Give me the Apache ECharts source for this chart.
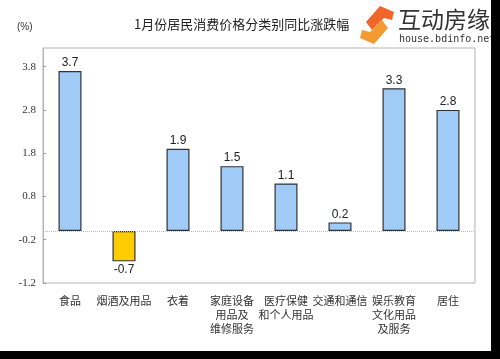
<!DOCTYPE html>
<html><head><meta charset="utf-8">
<script src="https://cdn.jsdelivr.net/npm/echarts@6/dist/echarts.min.js"></script>
<style>
html,body{margin:0;padding:0;background:#000;width:500px;height:359px;overflow:hidden}
#c{width:491px;height:351px;background:#fff}
</style></head><body>
<div id="c"></div>
<script>
var categories = ['食品','烟酒及用品','衣着','家庭设备\n用品及\n维修服务','医疗保健\n和个人用品','交通和通信','娱乐教育\n文化用品\n及服务','居住'];
var values = [3.7, -0.7, 1.9, 1.5, 1.1, 0.2, 3.3, 2.8];
var yTicks = [-1.2, -0.2, 0.8, 1.8, 2.8, 3.8];
var titleText = '1月份居民消费价格分类别同比涨跌幅';

var chart = echarts.init(document.getElementById('c'), null, {renderer:'canvas'});
var option = {
  backgroundColor:'#fff',
  animation:false,
  title:{text:titleText,left:129,top:13,textStyle:{fontSize:13,fontWeight:'normal',color:'#222',fontFamily:'Noto Sans CJK SC'}},
  grid:{left:43,right:16,top:48,bottom:68,show:true,borderColor:'#b4b4b4',borderWidth:1,backgroundColor:'transparent'},
  xAxis:{type:'category',data:categories,
    axisLine:{onZero:false,show:false},axisTick:{show:false},
    axisLabel:{interval:0,margin:11,fontSize:11,lineHeight:14,color:'#333',fontFamily:'Noto Sans CJK SC',verticalAlign:'top'}},
  yAxis:{type:'value',min:-1.2,max:4.23,
    axisLine:{show:true,lineStyle:{color:'#b4b4b4'}},
    axisTick:{show:true,inside:true,length:3,customValues:yTicks,lineStyle:{color:'#999'}},
    axisLabel:{customValues:yTicks,margin:7,fontSize:11,color:'#333',fontFamily:'Liberation Serif',formatter:function(v){return v.toFixed(1);}},
    splitLine:{show:false}},
  series:[{type:'bar',data:values.map(function(v){return {value:v,itemStyle:{color:v<0?'#ffcc00':'#9fcbf6'}};}),
    barWidth:23,
    itemStyle:{borderColor:'#333',borderWidth:1.2},
    label:{show:true,position:'outside',fontSize:12,color:'#222',fontFamily:'Liberation Sans',distance:2,
      formatter:function(p){return p.value.toFixed(1);}},
    markLine:{silent:true,symbol:'none',label:{show:false},lineStyle:{color:'#bbb',type:'dotted',width:1},data:[{yAxis:0}]}
  }],
  graphic:[
    {type:'text',left:17,top:22,style:{text:'(%)',fontSize:10,fill:'#333',fontFamily:'Liberation Sans'}},
    {type:'polygon',shape:{points:[[380,6],[366,22],[372,30],[384,18],[392,20],[394,12]]},style:{fill:'#f0652a'}},
    {type:'polygon',shape:{points:[[374,44],[388,28],[382,20],[370,32],[362,30],[360,38]]},style:{fill:'#f39a30'}},
    {type:'text',left:398,top:8,style:{text:'互动房缘',fontSize:23,fill:'#333',fontFamily:'Noto Sans CJK SC'}},
    {type:'text',left:399,top:34,style:{text:'house.bdinfo.net',fontSize:10,fill:'#333',fontFamily:'DejaVu Sans Mono'}}
  ]
};
chart.setOption(option);
</script></body></html>
